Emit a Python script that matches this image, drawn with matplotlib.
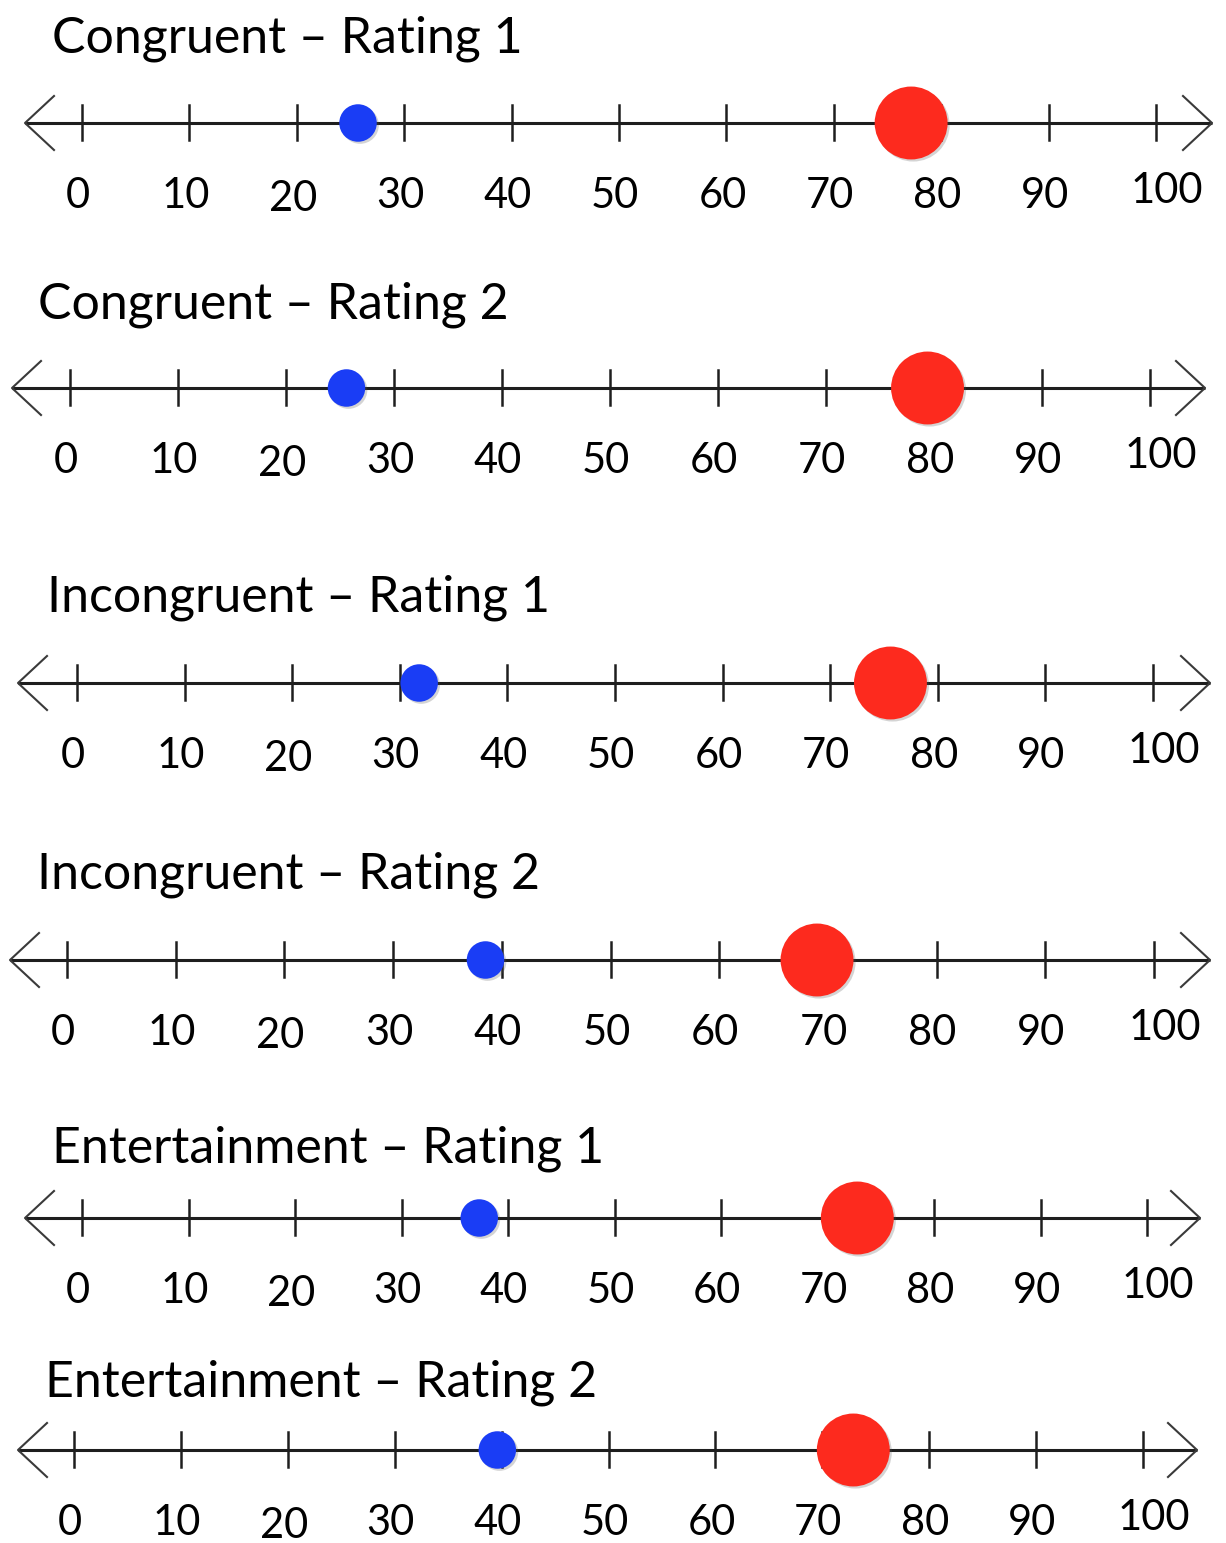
import numpy as np
import matplotlib.pyplot as plt
import matplotlib.patheffects as pe

# Данные: заголовки и средние значения на каждой шкале
titles = ["Congruent – Rating 1", "Congruent – Rating 2",
          "Incongruent – Rating 1", "Incongruent – Rating 2",
          "Entertainment – Rating 1", "Entertainment – Rating 2"]
blue_values = [25.7, 25.6, 31.8, 38.5, 37.3, 39.6]
red_values = [77.2, 79.4, 75.6, 69.0, 72.8, 72.9]
tick_values = list(range(0, 101, 10))

# Разметка (в пикселях): y линии, x для 0 и 100, концы стрелок, заголовок
line_y = [123, 388, 683, 960, 1218, 1450]
x_zero = [82, 70, 77, 67, 82, 74]
x_hundred = [1156, 1150, 1153, 1154, 1147, 1143]
tip_left = [25, 12, 18, 10, 25, 18]
tip_right = [1212, 1205, 1210, 1210, 1200, 1197]
title_x = [52, 38, 47, 37, 52, 45]
title_base = [52, 318, 612, 888, 1162, 1397]

W, H = 1226, 1543
plt.rcParams['font.family'] = ['Lato', 'DejaVu Sans']
fig = plt.figure(figsize=(W / 100, H / 100), dpi=100)

ink = '#1e1e1e'
shadow = [pe.SimplePatchShadow(offset=(1.5, -1.5), alpha=0.25, shadow_rgbFace='#555555'),
          pe.Normal()]

for i in range(6):
    # ось на всю фигуру: x в единицах шкалы, y в пикселях картинки
    ax = fig.add_axes([0, 0, 1, 1])
    ax.set_facecolor('none')
    ax.axis('off')
    k = 100 / (x_hundred[i] - x_zero[i])  # единиц на пиксель
    ax.set_xlim(-x_zero[i] * k, (W - x_zero[i]) * k)
    ax.set_ylim(H, 0)
    y = line_y[i]

    def px(p):
        return (p - x_zero[i]) * k

    # основная линия и стрелки
    ax.plot([px(tip_left[i]), px(tip_right[i])], [y, y], color=ink, lw=2.2,
            solid_capstyle='butt', zorder=1)
    for tip, d in [(tip_left[i], 1), (tip_right[i], -1)]:
        ax.plot([px(tip + d * 29), px(tip), px(tip + d * 29)],
                [y - 27, y, y + 27], color='#3a3a3a', lw=1.5, zorder=1)

    # деления и подписи
    for v in tick_values:
        ax.plot([v, v], [y - 18, y + 17], color=ink, lw=1.8, zorder=1)
        dx = -4 * k
        dy = 0
        if v == 20:
            dy = 3
        if v == 100:
            dx = 11 * k
            dy = -5
        ax.text(v + dx, y + 85 + dy, str(v), ha='center', va='baseline',
                fontsize=30, color='black')

    # точки
    ax.plot([blue_values[i]], [y], 'o', ms=27, color='#1a3df5', mec='none',
            zorder=3, path_effects=shadow)
    ax.plot([red_values[i]], [y], 'o', ms=52.5, color='#fd2a1e', mec='none',
            zorder=3, path_effects=shadow)

    # заголовок
    fig.text(title_x[i] / W, 1 - title_base[i] / H, titles[i], ha='left',
             va='baseline', fontsize=36, color='black')

plt.savefig('out.png', dpi=100)
